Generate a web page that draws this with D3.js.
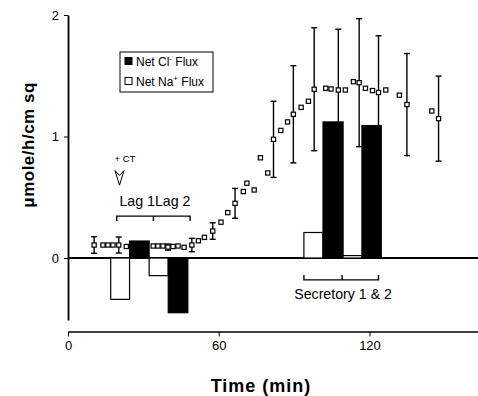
<!DOCTYPE html>
<html>
<head>
<meta charset="utf-8">
<script src="https://cdn.jsdelivr.net/npm/d3@7"></script>
<style>
  body { margin: 0; background: #fff; }
  svg { font-family: "Liberation Sans", Arial, Helvetica, sans-serif; }
</style>
</head>
<body>
<div id="chart"></div>
<script>
// time course (min) and mean flux, with s.e. where drawn
const pointTime = [10.4, 13.9, 15.9, 17.9, 20.2, 23.2, 33.9, 35.8, 37.8, 39.8, 41.8, 43.8, 46.2,
  49.3, 51.9, 54.3, 57.6, 60.9, 63.6, 66.5, 69.8, 71.2, 74.1, 76.6, 79.5, 81.8, 84.7, 87.4,
  89.7, 92.8, 95.7, 98.0, 102.6, 104.7, 107.6, 110.4, 113.6, 115.9, 118.4, 121.2, 123.6,
  126.5, 131.9, 134.9, 144.8, 147.5];
const pointValue = [0.107, 0.107, 0.107, 0.107, 0.107, 0.095, 0.099, 0.099, 0.099, 0.09, 0.095, 0.099, 0.088,
  0.107, 0.142, 0.17, 0.222, 0.295, 0.374, 0.45, 0.547, 0.616, 0.56, 0.825, 0.70, 0.977, 1.05, 1.12,
  1.183, 1.24, 1.29, 1.389, 1.397, 1.391, 1.383, 1.383, 1.451, 1.443, 1.397, 1.378, 1.362,
  1.383, 1.34, 1.263, 1.21, 1.147];
const pointError = [0.068, 0, 0, 0, 0.066, 0, 0, 0, 0, 0.025, 0, 0, 0,
  0.055, 0, 0, 0.068, 0, 0, 0.123, 0, 0, 0, 0, 0, 0.313, 0, 0,
  0.40, 0, 0, 0.506, 0, 0, 0.50, 0, 0, 0.527, 0, 0, 0.467,
  0, 0, 0.42, 0, 0.35];

// net flux bars: start/end time (min), value, series
const barStart = [17.0, 24.5, 32.3, 39.9, 93.9, 101.5, 109.5, 117.0];
const barEnd = [24.5, 32.3, 39.9, 47.7, 101.5, 109.5, 117.0, 124.7];
const barValue = [-0.34, 0.14, -0.145, -0.45, 0.21, 1.12, 0.02, 1.09];
const barSeries = ["Na", "Cl", "Na", "Cl", "Na", "Cl", "Na", "Cl"];

const xTicks = [0, 60, 120];
const yTicks = [0, 1, 2];

const width = 478, height = 396;

const svg = d3.select("#chart").append("svg")
  .attr("width", width)
  .attr("height", height);

const x = d3.scaleLinear().domain([0, 163.2]).range([68, 478]);
const y = d3.scaleLinear().domain([-0.51, 2]).range([320, 15]);

// axes
svg.append("g")
  .attr("transform", "translate(0,331.5)")
  .call(d3.axisBottom(x).tickValues(xTicks).tickFormat(d3.format("d")).tickSize(5).tickSizeOuter(0).tickPadding(4))
  .call(g => g.select(".domain").attr("stroke-width", 1.5))
  .call(g => g.selectAll("text").attr("font-size", 13).attr("font-family", null));

svg.append("g")
  .attr("transform", "translate(68,0)")
  .call(d3.axisLeft(y).tickValues(yTicks).tickFormat(d3.format("d")).tickSize(4).tickSizeOuter(0).tickPadding(5))
  .call(g => g.select(".domain").attr("stroke-width", 1.8))
  .call(g => g.selectAll("text").attr("font-size", 13).attr("font-family", null));

// zero line
svg.append("line")
  .attr("x1", x(0)).attr("x2", width)
  .attr("y1", y(0)).attr("y2", y(0))
  .attr("stroke", "#000").attr("stroke-width", 2);

// axis titles
svg.append("text")
  .attr("x", 261).attr("y", 392)
  .attr("text-anchor", "middle")
  .attr("font-size", 18).attr("font-weight", "bold")
  .attr("letter-spacing", 1)
  .text("Time (min)");

svg.append("text")
  .attr("transform", "translate(34,145) rotate(-90)")
  .attr("text-anchor", "middle")
  .attr("font-size", 17).attr("font-weight", "bold")
  .attr("letter-spacing", 0.5)
  .text("μmole/h/cm sq");

// points with error bars
const pts = pointTime.map((t, i) => ({ t: t, v: pointValue[i], e: pointError[i] }));

const eb = svg.append("g").attr("stroke", "#000").attr("stroke-width", 1.4);
pts.filter(d => d.e > 0).forEach(d => {
  eb.append("line").attr("x1", x(d.t)).attr("x2", x(d.t))
    .attr("y1", y(d.v - d.e)).attr("y2", y(d.v + d.e));
  [d.v - d.e, d.v + d.e].forEach(v => {
    eb.append("line").attr("x1", x(d.t) - 3).attr("x2", x(d.t) + 3)
      .attr("y1", y(v)).attr("y2", y(v));
  });
});

svg.append("g").selectAll("rect")
  .data(pts)
  .join("rect")
  .attr("x", d => x(d.t) - 2.1)
  .attr("y", d => y(d.v) - 2.1)
  .attr("width", 4.2).attr("height", 4.2)
  .attr("fill", "#fff").attr("stroke", "#000").attr("stroke-width", 1.2);

// flux bars
const bars = barStart.map((s, i) => ({ s: s, e: barEnd[i], v: barValue[i], k: barSeries[i] }));
svg.append("g").selectAll("rect")
  .data(bars)
  .join("rect")
  .attr("x", d => x(d.s))
  .attr("y", d => y(Math.max(0, d.v)))
  .attr("width", d => x(d.e) - x(d.s))
  .attr("height", d => Math.abs(y(d.v) - y(0)))
  .attr("fill", d => d.k === "Cl" ? "#000" : "#fff")
  .attr("stroke", "#000").attr("stroke-width", 1.2);

// brackets
function bracket(t0, t1, tm, v, dv) {
  const p = d3.path();
  p.moveTo(x(t0), y(v + dv)); p.lineTo(x(t0), y(v)); p.lineTo(x(t1), y(v)); p.lineTo(x(t1), y(v + dv));
  p.moveTo(x(tm), y(v)); p.lineTo(x(tm), y(v + dv));
  svg.append("path").attr("d", p.toString())
    .attr("fill", "none").attr("stroke", "#000").attr("stroke-width", 1.4);
}
bracket(19.4, 48.6, 34.0, 0.345, -0.04);
bracket(93.9, 123.6, 109.1, -0.18, 0.04);

svg.append("text")
  .attr("x", x(34.6)).attr("y", y(0.43))
  .attr("text-anchor", "middle").attr("font-size", 14.2)
  .text("Lag 1Lag 2");

svg.append("text")
  .attr("x", x(109.5)).attr("y", y(-0.335))
  .attr("text-anchor", "middle").attr("font-size", 14.2)
  .text("Secretory 1 & 2");

// cholera toxin marker
const ctT = 20.5;
svg.append("path")
  .attr("d", `M${x(ctT) - 4.5},${y(0.72)} L${x(ctT)},${y(0.6)} L${x(ctT) + 4.5},${y(0.72)} L${x(ctT)},${y(0.68)} Z`)
  .attr("fill", "#fff").attr("stroke", "#000").attr("stroke-width", 1);
svg.append("text")
  .attr("x", x(ctT) - 5).attr("y", y(0.79))
  .attr("font-size", 9.5)
  .text("+ CT");

// legend
const lg = svg.append("g");
lg.append("rect").attr("x", 120).attr("y", 52).attr("width", 93).attr("height", 40)
  .attr("fill", "#fff").attr("stroke", "#000").attr("stroke-width", 1);
lg.append("rect").attr("x", 124.5).attr("y", 57).attr("width", 8).attr("height", 8).attr("fill", "#000");
lg.append("rect").attr("x", 125).attr("y", 77.5).attr("width", 7).attr("height", 7)
  .attr("fill", "#fff").attr("stroke", "#000").attr("stroke-width", 1);

const t1 = lg.append("text").attr("x", 136).attr("y", 66).attr("font-size", 12);
t1.append("tspan").text("Net Cl");
t1.append("tspan").attr("font-size", 8).attr("dy", -5).text("-");
t1.append("tspan").attr("dy", 5).text(" Flux");

const t2 = lg.append("text").attr("x", 136).attr("y", 86).attr("font-size", 12);
t2.append("tspan").text("Net Na");
t2.append("tspan").attr("font-size", 8).attr("dy", -5).text("+");
t2.append("tspan").attr("dy", 5).text(" Flux");
</script>
</body>
</html>
